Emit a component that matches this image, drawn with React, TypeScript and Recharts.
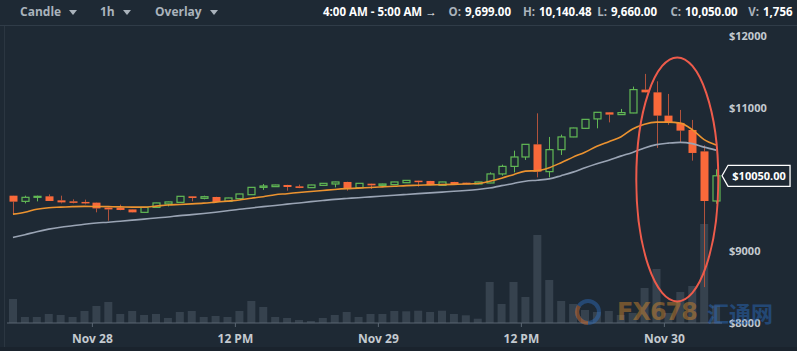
import {
  ComposedChart,
  Bar,
  Line,
  XAxis,
  YAxis,
  ReferenceDot,
} from "recharts";

// hourly candles, Nov 27 17:00 -> Nov 30 04:00
const times = [
  "Nov 27 17:00", "Nov 27 18:00", "Nov 27 19:00", "Nov 27 20:00", "Nov 27 21:00", "Nov 27 22:00", "Nov 27 23:00",
  "Nov 28 00:00", "Nov 28 01:00", "Nov 28 02:00", "Nov 28 03:00", "Nov 28 04:00", "Nov 28 05:00",
  "Nov 28 06:00", "Nov 28 07:00", "Nov 28 08:00", "Nov 28 09:00", "Nov 28 10:00", "Nov 28 11:00",
  "Nov 28 12:00", "Nov 28 13:00", "Nov 28 14:00", "Nov 28 15:00", "Nov 28 16:00", "Nov 28 17:00",
  "Nov 28 18:00", "Nov 28 19:00", "Nov 28 20:00", "Nov 28 21:00", "Nov 28 22:00", "Nov 28 23:00",
  "Nov 29 00:00", "Nov 29 01:00", "Nov 29 02:00", "Nov 29 03:00", "Nov 29 04:00", "Nov 29 05:00",
  "Nov 29 06:00", "Nov 29 07:00", "Nov 29 08:00", "Nov 29 09:00", "Nov 29 10:00", "Nov 29 11:00",
  "Nov 29 12:00", "Nov 29 13:00", "Nov 29 14:00", "Nov 29 15:00", "Nov 29 16:00", "Nov 29 17:00",
  "Nov 29 18:00", "Nov 29 19:00", "Nov 29 20:00", "Nov 29 21:00", "Nov 29 22:00", "Nov 29 23:00",
  "Nov 30 00:00", "Nov 30 01:00", "Nov 30 02:00", "Nov 30 03:00", "Nov 30 04:00",
];

const open = [
  9773, 9694, 9750, 9764, 9708, 9694, 9686, 9676, 9606, 9606,
  9582, 9541, 9610, 9658, 9680, 9764, 9736, 9755, 9694, 9732,
  9787, 9889, 9899, 9922, 9903, 9885, 9917, 9936, 9964, 9885,
  9940, 9917, 9927, 9954, 9982, 9978, 9917, 9964, 9954, 9936,
  9950, 10076, 10181, 10312, 10488, 10108, 10414, 10591, 10711, 10842,
  10934, 10902, 10925, 11250, 11212, 10888, 10786, 10688, 10390, 9699,
];
const high = [
  9775, 9773, 9773, 9791, 9773, 9722, 9718, 9680, 9610, 9648,
  9585, 9612, 9675, 9690, 9768, 9766, 9773, 9758, 9744, 9800,
  9892, 9936, 9925, 9925, 9927, 9925, 9948, 9968, 9968, 9948,
  9943, 9940, 9967, 9990, 9985, 9980, 9967, 9967, 9957, 9967,
  10098, 10205, 10400, 10492, 10920, 10591, 10623, 10720, 10840, 10937,
  10937, 10981, 11292, 11469, 11366, 11190, 10967, 10828, 10474, 10140.48,
];
const low = [
  9518, 9666, 9694, 9699, 9666, 9666, 9652, 9541, 9425, 9570,
  9538, 9538, 9605, 9624, 9678, 9694, 9722, 9683, 9690, 9728,
  9784, 9853, 9896, 9843, 9878, 9882, 9914, 9889, 9843, 9882,
  9867, 9914, 9924, 9950, 9899, 9920, 9914, 9933, 9933, 9933,
  9947, 10052, 10098, 10271, 10028, 10028, 10340, 10588, 10702, 10711,
  10794, 10899, 10922, 11208, 10438, 10760, 10516, 10261, 8500, 9660,
];
const close = [
  9690, 9750, 9764, 9699, 9680, 9676, 9666, 9596, 9582, 9574,
  9541, 9610, 9672, 9686, 9764, 9741, 9759, 9686, 9741, 9797,
  9889, 9908, 9922, 9894, 9881, 9922, 9945, 9964, 9871, 9945,
  9917, 9936, 9964, 9986, 9972, 9922, 9964, 9936, 9936, 9964,
  10076, 10181, 10312, 10488, 10108, 10414, 10591, 10716, 10836, 10934,
  10902, 10930, 11250, 11212, 10888, 10786, 10679, 10368, 9699, 10050,
];
const volume = [
  2400, 600, 600, 900, 800, 600, 1200, 1700, 2100, 900,
  1200, 800, 900, 500, 1100, 1200, 600, 700, 600, 1200,
  2200, 1600, 600, 500, 300, 200, 500, 800, 1100, 600,
  900, 900, 1200, 1170, 1230, 1100, 1230, 900, 770, 430,
  4100, 1900, 4100, 2600, 8800, 4300, 2200, 1900, 1300, 1100,
  1200, 800, 1000, 3500, 5400, 1000, 3100, 3700, 9900, 1756,
];
// overlay averages
const maFast = [
  9516, 9543, 9585, 9606, 9613, 9620, 9624, 9623, 9620, 9617,
  9613, 9613, 9627, 9644, 9651, 9659, 9669, 9683, 9697, 9713,
  9738, 9759, 9787, 9801, 9818, 9832, 9846, 9860, 9871, 9878,
  9888, 9896, 9904, 9913, 9918, 9924, 9927, 9931, 9935, 9943,
  9975, 10017, 10066, 10115, 10122, 10163, 10233, 10310, 10379, 10460,
  10525, 10591, 10702, 10769, 10797, 10797, 10783, 10693, 10553, 10480,
];
const maSlow = [
  9191, 9230, 9272, 9307, 9334, 9355, 9376, 9393, 9404, 9418,
  9432, 9446, 9463, 9477, 9495, 9509, 9525, 9543, 9564, 9585,
  9602, 9620, 9637, 9655, 9672, 9690, 9706, 9722, 9734, 9745,
  9757, 9768, 9779, 9790, 9801, 9812, 9823, 9835, 9846, 9860,
  9879, 9913, 9943, 9975, 9989, 10007, 10052, 10101, 10163, 10219,
  10268, 10324, 10376, 10438, 10484, 10505, 10516, 10498, 10449, 10407,
];

const xTicks = ["Nov 28 00:00", "Nov 28 12:00", "Nov 29 00:00", "Nov 29 12:00", "Nov 30 00:00"];
const xTickLabels = ["Nov 28", "12 PM", "Nov 29", "12 PM", "Nov 30"];
const yTicks = [8000, 9000, 11000, 12000];

const BG = "#1e2934";
const GREEN = "#62b955";
const RED = "#f9693a";
const RED_WICK = "#b0523c";
const FONT = "'Open Sans', sans-serif";

const data = times.map((t, i) => ({
  t,
  open: open[i],
  high: high[i],
  low: low[i],
  close: close[i],
  range: [low[i], high[i]],
  volume: volume[i],
  maFast: maFast[i],
  maSlow: maSlow[i],
}));

const last = data[data.length - 1];

function Candle(props: any) {
  const { x, width, payload } = props;
  let { y, height } = props;
  if (height < 0) {
    y = y + height;
    height = -height;
  }
  const span = payload.high - payload.low || 1;
  const py = (v: number) => y + ((payload.high - v) / span) * height;
  const up = payload.close >= payload.open;
  const cx = Math.round(x + width / 2) + 0.5;
  const top = py(Math.max(payload.open, payload.close));
  const bot = py(Math.min(payload.open, payload.close));
  const wick = up ? GREEN : RED_WICK;
  return (
    <g>
      <line x1={cx} x2={cx} y1={y} y2={top} stroke={wick} strokeWidth={1} />
      <line x1={cx} x2={cx} y1={bot} y2={y + height} stroke={wick} strokeWidth={1} />
      {up ? (
        <rect x={cx - 3.5} y={top} width={7} height={Math.max(bot - top, 1)} fill="none" stroke={GREEN} strokeWidth={1.2} />
      ) : (
        <rect x={cx - 4} y={top} width={8} height={Math.max(bot - top, 1.5)} fill={RED} />
      )}
    </g>
  );
}

function XTick({ x, y, payload }: any) {
  const idx = xTicks.indexOf(payload.value);
  const px = x - 4;
  return (
    <g>
      <line x1={px} x2={px} y1={y} y2={y + 4} stroke="#5a6672" />
      <text x={px} y={y + 20} textAnchor="middle" fill="#c4cad0" fontSize={12} fontWeight={700} fontFamily={FONT}>
        {xTickLabels[idx]}
      </text>
    </g>
  );
}

function YTick({ x, y, payload }: any) {
  return (
    <text x={x + 7} y={y + 4} textAnchor="start" fill="#c4cad0" fontSize={11} fontWeight={700} fontFamily={FONT}>
      {`$${payload.value}`}
    </text>
  );
}

function PriceTag({ cx, cy }: any) {
  const l = cx + 6;
  return (
    <g>
      <polygon
        points={`${l},${cy} ${l + 6},${cy - 10.5} ${l + 68},${cy - 10.5} ${l + 68},${cy + 10.5} ${l + 6},${cy + 10.5}`}
        fill={BG}
        stroke="#ffffff"
        strokeWidth={1.3}
      />
      <text x={l + 37} y={cy + 4} textAnchor="middle" fill="#ffffff" fontSize={11} fontWeight={700} fontFamily={FONT}>
        {`$${last.close.toFixed(2)}`}
      </text>
    </g>
  );
}

function Ring({ cx, cy }: any) {
  return <ellipse cx={cx - 3} cy={cy} rx={41} ry={122} fill="none" stroke="#ee5b4b" strokeWidth={2} />;
}

const Tri = () => (
  <svg width={8} height={6} style={{ marginLeft: 8, verticalAlign: "middle" }}>
    <polygon points="0,0 8,0 4,5" fill="#aab3bc" />
  </svg>
);

const label = { position: "absolute" as const, top: 4, fontSize: 12, fontWeight: 700, lineHeight: "16px", whiteSpace: "nowrap" as const };
const gray = { ...label, color: "#aab3bc" };
const white = { ...label, color: "#ffffff" };

// label ends right before its value
const Pair = ({ k, v, at }: { k: string; v: string; at: number }) => (
  <>
    <span style={{ ...gray, right: 797 - at + 4, fontSize: 11.5 }}>{k}</span>
    <span style={{ ...white, left: at, fontSize: 11.5 }}>{v}</span>
  </>
);

export default function App() {
  return (
    <div style={{ position: "absolute", left: 0, top: 0, width: 797, height: 351, background: BG, fontFamily: FONT, overflow: "hidden" }}>
      <div style={{ position: "absolute", left: 0, top: 25, width: 797, height: 1, background: "#303c48" }} />
      <div style={{ position: "absolute", left: 4, top: 26, width: 1, height: 322, background: "#2b3641" }} />
      <div style={{ position: "absolute", left: 0, top: 347, width: 797, height: 4, background: "#1a232d" }} />

      <span style={{ ...gray, left: 20 }}>Candle<Tri /></span>
      <span style={{ ...gray, left: 100 }}>1h<Tri /></span>
      <span style={{ ...gray, left: 155 }}>Overlay<Tri /></span>
      <span style={{ ...white, left: 323, fontSize: 11.5 }}>4:00 AM - 5:00 AM →</span>
      <Pair k="O:" v="9,699.00" at={465} />
      <Pair k="H:" v="10,140.48" at={539} />
      <Pair k="L:" v="9,660.00" at={611} />
      <Pair k="C:" v="10,050.00" at={685} />
      <Pair k="V:" v="1,756" at={763} />

      <div style={{ position: "absolute", left: 0, top: 0 }}>
        <ComposedChart width={797} height={351} data={data} margin={{ top: 26, right: 0, bottom: 0, left: 7 }}>
          <XAxis
            xAxisId="main"
            dataKey="t"
            ticks={xTicks}
            interval={0}
            height={28}
            tickSize={0}
            tickMargin={0}
            tickLine={false}
            axisLine={{ stroke: "#5a6672" }}
            tick={<XTick />}
          />
          <XAxis xAxisId="vol" dataKey="t" hide />
          <YAxis
            yAxisId="price"
            orientation="right"
            width={75}
            domain={[8000, 12136]}
            ticks={yTicks}
            allowDataOverflow
            tickSize={0}
            tickMargin={0}
            tickLine={false}
            axisLine={false}
            tick={<YTick />}
          />
          <YAxis yAxisId="vol" hide domain={[0, 29700]} />
          <Bar xAxisId="vol" yAxisId="vol" dataKey="volume" barSize={8} fill="#36424e" isAnimationActive={false} />
          <Line xAxisId="main" yAxisId="price" type="monotone" dataKey="maSlow" stroke="#9aa4b4" strokeWidth={1.6} dot={false} isAnimationActive={false} />
          <Line xAxisId="main" yAxisId="price" type="monotone" dataKey="maFast" stroke="#ec9330" strokeWidth={1.6} dot={false} isAnimationActive={false} />
          <Bar xAxisId="main" yAxisId="price" dataKey="range" barSize={8} shape={<Candle />} isAnimationActive={false} />
          <ReferenceDot xAxisId="main" yAxisId="price" x={times[56]} y={10000} shape={<Ring />} ifOverflow="visible" />
          <ReferenceDot xAxisId="main" yAxisId="price" x={last.t} y={last.close} shape={<PriceTag />} ifOverflow="visible" />
        </ComposedChart>
      </div>

      <div style={{ position: "absolute", left: 573, top: 298, height: 28, opacity: 0.45, display: "flex", alignItems: "center", pointerEvents: "none" }}>
        <svg width={32} height={28}>
          <circle cx={15} cy={14} r={11} fill="none" stroke="#2f6fc0" strokeWidth={4} />
          <path d="M6 8 A11 11 0 0 0 15 25" fill="none" stroke="#e0702a" strokeWidth={4} />
        </svg>
        <span style={{ marginLeft: 12, fontSize: 24, lineHeight: "28px", fontWeight: 700, color: "#d98a2c", fontFamily: "'DejaVu Sans', sans-serif", letterSpacing: -1 }}>FX678</span>
        <span style={{ marginLeft: 10, fontSize: 22, lineHeight: "28px", fontWeight: 700, color: "#2b6ec4", fontFamily: "'Noto Sans CJK SC', sans-serif" }}>汇通网</span>
      </div>
    </div>
  );
}
